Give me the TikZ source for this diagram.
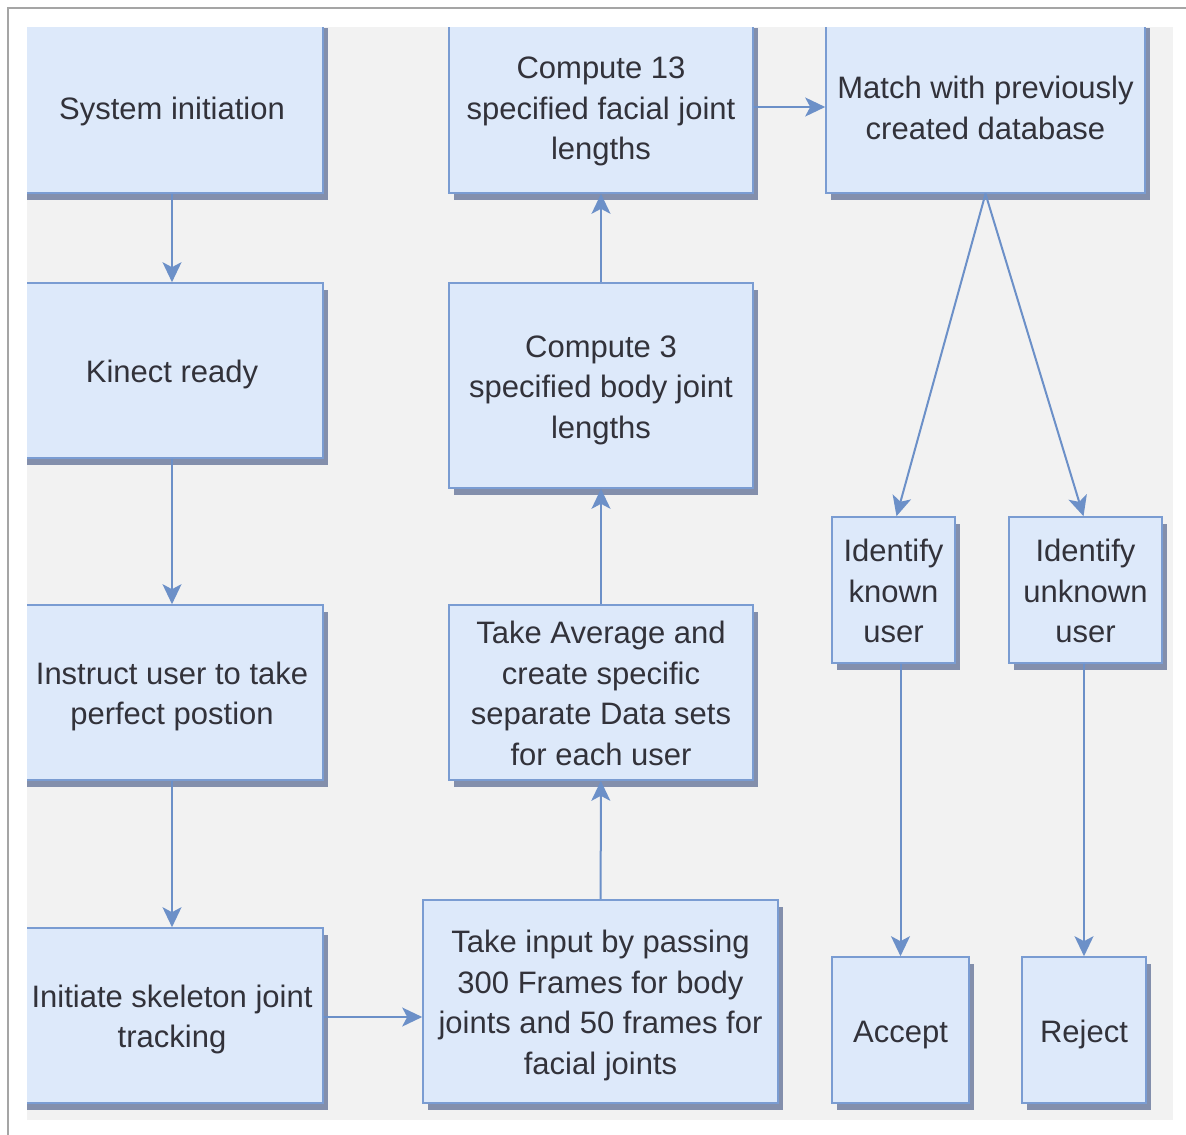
\documentclass[tikz,border=0pt]{standalone}
\usepackage{fontspec}
\setmainfont{Liberation Sans}
\usetikzlibrary{shadows,arrows.meta}
\definecolor{boxfill}{RGB}{221,233,250}
\definecolor{boxline}{RGB}{122,156,210}
\definecolor{arrowcol}{RGB}{108,144,200}
\definecolor{shadowcol}{RGB}{112,126,160}
\definecolor{panel}{RGB}{242,242,242}
\definecolor{framecol}{RGB}{165,165,165}
\definecolor{txt}{RGB}{50,50,58}
\newcommand\boxtext[1]{\raisebox{-4pt}[\height][\depth]{\begin{tabular}{@{}c@{}}#1\end{tabular}}}
\begin{document}
\begin{tikzpicture}[x=1pt,y=-1pt,
  flowbox/.style={draw=boxline,fill=boxfill,line width=1.6pt,
    drop shadow={shadow xshift=5pt,shadow yshift=-7pt,fill=shadowcol,opacity=0.85},
    text=txt,inner sep=0pt,font=\fontsize{31}{40.5}\selectfont},
  flow/.style={draw=arrowcol,line width=2pt,-{Stealth[length=20pt,width=19pt,inset=5pt]}}]
\useasboundingbox (0,0) rectangle (1186,1135);
\fill[white] (0,0) rectangle (1186,1135);
\draw[framecol,line width=1.5pt] (8,1135) -- (8,8) -- (1186,8);
\fill[panel] (27,27) rectangle (1173,1120);
\begin{scope}
\clip (27,27) rectangle (1173,1120);
% left column
\node[flowbox,minimum width=302pt,minimum height=172pt] (sys) at (172,107) {\boxtext{System initiation}};
\node[flowbox,minimum width=302pt,minimum height=175pt] (kin) at (172,370.5) {\boxtext{Kinect ready}};
\node[flowbox,minimum width=302pt,minimum height=175pt] (ins) at (172,692.5) {\boxtext{Instruct user to take\\perfect postion}};
\node[flowbox,minimum width=302pt,minimum height=175pt] (ske) at (172,1015.5) {\boxtext{Initiate skeleton joint\\tracking}};
% middle column
\node[flowbox,minimum width=304pt,minimum height=172pt] (c13) at (601,107) {\boxtext{Compute 13\\specified facial joint\\lengths}};
\node[flowbox,minimum width=304pt,minimum height=205pt] (c3) at (601,385.5) {\boxtext{Compute 3\\specified body joint\\lengths}};
\node[flowbox,minimum width=304pt,minimum height=175pt] (avg) at (601,692.5) {\boxtext{Take Average and\\create specific\\separate Data sets\\for each user}};
\node[flowbox,minimum width=355pt,minimum height=203pt] (inp) at (600.5,1001.5) {\boxtext{Take input by passing\\300 Frames for body\\joints and 50 frames for\\facial joints}};
% right column
\node[flowbox,minimum width=319pt,minimum height=172pt] (match) at (985.5,107) {\boxtext{Match with previously\\created database}};
\node[flowbox,minimum width=123pt,minimum height=146pt] (known) at (893.5,590) {\boxtext{Identify\\known\\user}};
\node[flowbox,minimum width=153pt,minimum height=146pt] (unknown) at (1085.5,590) {\boxtext{Identify\\unknown\\user}};
\node[flowbox,minimum width=137pt,minimum height=146pt] (accept) at (900.5,1030) {\boxtext{Accept}};
\node[flowbox,minimum width=124pt,minimum height=146pt] (reject) at (1084,1030) {\boxtext{Reject}};
\end{scope}
% connectors
\draw[flow] (sys) -- (kin);
\draw[flow] (kin) -- (ins);
\draw[flow] (ins) -- (ske);
\draw[flow] ([yshift=-1.5pt]ske.east) -- ([yshift=-1.5pt]ske.east -| inp.west);
\draw[flow] (inp) -- (avg);
\draw[flow] (avg) -- (c3);
\draw[flow] (c3) -- (c13);
\draw[flow] (c13) -- (match);
\draw[flow] (match.south) -- ([xshift=3pt]known.north);
\draw[flow] (match.south) -- ([xshift=-2pt]unknown.north);
\draw[flow] (accept.north |- known.south) -- (accept.north);
\draw[flow] (reject.north |- unknown.south) -- (reject.north);
\end{tikzpicture}
\end{document}
